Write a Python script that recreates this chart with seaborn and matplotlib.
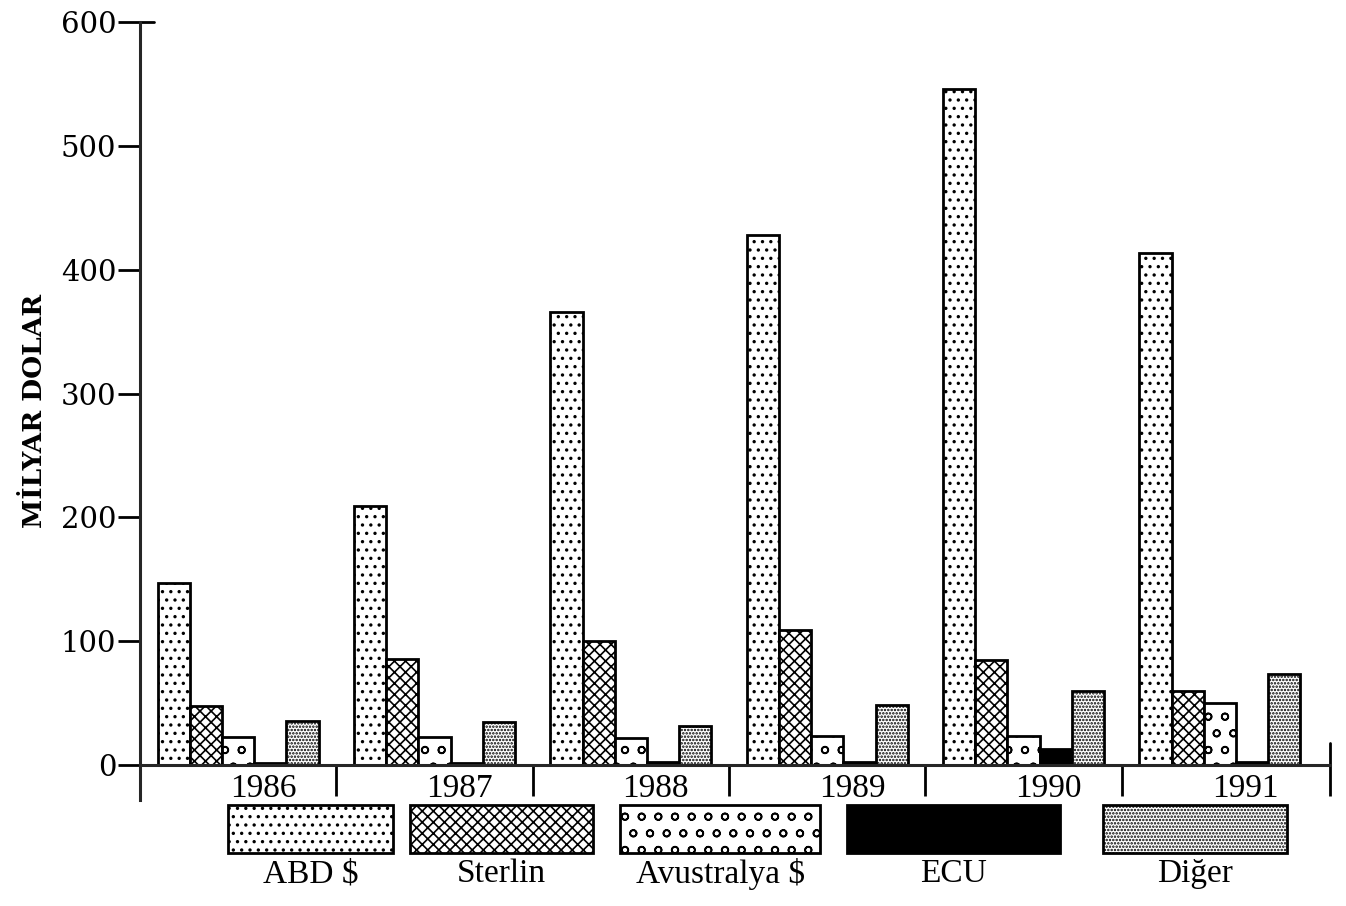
import numpy as np
import pandas as pd
import matplotlib
matplotlib.use('Agg')
import matplotlib.pyplot as plt
import matplotlib.patches as mpatches
import matplotlib.transforms as mtransforms
import seaborn as sns

# ---- veri (milyar dolar) ----
yillar = ['1986', '1987', '1988', '1989', '1990', '1991']
abd = [147, 209, 366, 428, 546, 413]
sterlin = [48, 86, 100, 109, 85, 60]
avustralya = [23, 23, 22, 24, 24, 50]
ecu = [2, 2, 3, 3, 13, 3]
diger = [36, 35, 32, 49, 60, 74]

paralar = ['ABD $', 'Sterlin', 'Avustralya $', 'ECU', 'Diğer']
renkler = ['white', 'white', 'white', 'black', 'white']
taramalar = ['..', 'xxx', 'o', '', '.....']

df = pd.DataFrame({
    'yil': yillar * 5,
    'para': [p for p in paralar for _ in yillar],
    'deger': abd + sterlin + avustralya + ecu + diger,
})

sns.set_style('white')
plt.rcParams['font.family'] = ['DejaVu Serif']
plt.rcParams['text.color'] = 'black'
plt.rcParams['xtick.color'] = 'black'
plt.rcParams['ytick.color'] = 'black'
plt.rcParams['axes.labelcolor'] = 'black'
plt.rcParams['hatch.color'] = 'black'
plt.rcParams['hatch.linewidth'] = 1.2

fig = plt.figure(figsize=(13.46, 9.06), dpi=100)
ax = fig.add_axes([0.104, 0.117, 0.884, 0.859])

sns.barplot(data=df, x='yil', y='deger', hue='para', hue_order=paralar,
            palette=renkler, width=0.82, saturation=1, edgecolor='black',
            linewidth=2, legend=False, ax=ax)

for cont, hatch in zip(ax.containers, taramalar):
    for bar in cont:
        bar.set_hatch(hatch)

ax.set_ylim(-28, 600)
ax.set_xlim(-0.5, 5.56)
ax.set_yticks(range(0, 601, 100))
ax.tick_params(axis='y', left=True, direction='out', length=16, width=2,
               labelsize=21, pad=1)

# eksenler
for s in ['top', 'right']:
    ax.spines[s].set_visible(False)
ax.spines['left'].set_linewidth(2.2)
ax.spines['left'].set_bounds(-28, 600)
ax.spines['bottom'].set_position(('data', 0))
ax.spines['bottom'].set_linewidth(2.2)
ax.spines['bottom'].set_bounds(-0.5, 5.56)
ax.axhline(600, xmin=0, xmax=0.012, color='black', lw=2, clip_on=False)
ax.axvline(5.56, ymin=28 / 628, ymax=46 / 628, color='black', lw=2, clip_on=False)

# grup ayiricilari
ax.set_xticks([i + 0.5 for i in range(5)] + [5.56], minor=True)
ax.tick_params(axis='x', which='minor', bottom=True, direction='out',
               length=22, width=2)
ax.set_xticks(range(len(yillar)))
ax.set_xticklabels(yillar, fontsize=24, family='Liberation Serif')
ax.tick_params(axis='x', which='major', bottom=True, length=0, pad=6)
kaydir = mtransforms.ScaledTranslation(0.25, 0, fig.dpi_scale_trans)
for lbl in ax.get_xticklabels():
    lbl.set_transform(lbl.get_transform() + kaydir)

ax.set_xlabel('')
ax.set_ylabel('MİLYAR DOLAR', fontsize=19, fontweight='bold', labelpad=10)

# ---- alt lejant ----
lax = fig.add_axes([0, 0, 1, 1], facecolor='none')
lax.set_xlim(0, 1346)
lax.set_ylim(906, 0)
lax.axis('off')
kutular = [(228, 165), (410, 183), (620, 200), (847, 213), (1103, 184)]
for (x0, w), renk, hatch, ad in zip(kutular, renkler, taramalar, paralar):
    lax.add_patch(mpatches.Rectangle((x0, 805), w, 48, facecolor=renk,
                                     edgecolor='black', linewidth=2, hatch=hatch))
    lax.text(x0 + w / 2, 874, ad, ha='center', va='center', fontsize=24,
             family='Liberation Serif')

fig.savefig('out.png', dpi=100)
